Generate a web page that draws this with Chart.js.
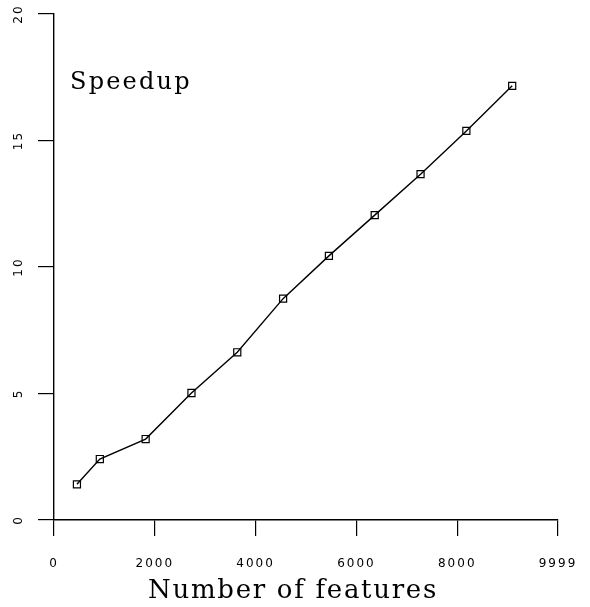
<!DOCTYPE html>
<html>
<head>
<meta charset="utf-8">
<script src="https://cdn.jsdelivr.net/npm/chart.js@4"></script>
<style>
  html, body { margin: 0; padding: 0; background: #fff; }
  #wrap { width: 590px; height: 607px; }
</style>
</head>
<body>
<div id="wrap"><canvas id="chartSpeedup"></canvas></div>
<script>
// data
const features = [455, 909, 1818, 2727, 3636, 4545, 5454, 6363, 7272, 8181, 9090];
const speedup  = [1.41, 2.41, 3.20, 5.02, 6.63, 8.75, 10.44, 12.05, 13.67, 15.38, 17.16];
const xTicks = [0, 2000, 4000, 6000, 8000, 9999];
const yTicks = [0, 5, 10, 15, 20];

const tickFont = { family: "'DejaVu Sans', sans-serif", size: 12 };

// wide tick labels + the two serif texts
const textPlugin = {
    id: 'textPlugin',
    afterDatasetsDraw(chart) {
        chart.ctx.letterSpacing = '2px';
    },
    afterDraw(chart) {
        const ctx = chart.ctx;
        const area = chart.chartArea;
        ctx.letterSpacing = '0px';
        ctx.save();
        ctx.fillStyle = '#000';
        ctx.textBaseline = 'alphabetic';
        ctx.font = "24px 'DejaVu Serif', serif";
        ctx.letterSpacing = '2.2px';
        ctx.textAlign = 'left';
        ctx.fillText('Speedup', area.left + 16, area.top + 75);
        ctx.font = "26px 'DejaVu Serif', serif";
        ctx.letterSpacing = '1.7px';
        ctx.textAlign = 'center';
        ctx.fillText('Number of features', chart.width / 2 - 2, 598);
        ctx.restore();
        ctx.letterSpacing = '0px';
    }
};

// keep the plot box fixed (no auto padding from tick labels)
function noPadding(s) {
    s.paddingLeft = 0; s.paddingRight = 0; s.paddingTop = 0; s.paddingBottom = 0;
}

new Chart(document.getElementById('chartSpeedup'), {
    type: 'line',
    data: {
        datasets: [{
            data: features.map((f, i) => ({ x: f, y: speedup[i] })),
            borderColor: '#000',
            borderWidth: 1.4,
            tension: 0,
            pointStyle: 'rect',
            pointRadius: 5,
            pointBorderWidth: 1.2,
            pointBorderColor: '#000',
            pointBackgroundColor: 'rgba(0,0,0,0)',
            clip: false
        }]
    },
    options: {
        responsive: true, maintainAspectRatio: false, animation: false,
        layout: { padding: { left: 0, top: 14, right: 32, bottom: 0 } },
        plugins: { legend: { display: false }, tooltip: { enabled: false } },
        scales: {
            x: {
                type: 'linear', min: 0, max: 9999,
                afterBuildTicks: s => { s.ticks = xTicks.map(v => ({ value: v })); },
                afterFit: s => { s.height = 87; noPadding(s); },
                grid: { drawOnChartArea: false, drawTicks: true, tickLength: 16, color: '#000', lineWidth: 1.2 },
                border: { display: true, color: '#000', width: 1.4 },
                ticks: { z: 1, color: '#000', font: tickFont, padding: 21, maxRotation: 0, autoSkip: false,
                         callback: v => String(v) }
            },
            y: {
                type: 'linear', min: 0, max: 20,
                afterBuildTicks: s => { s.ticks = yTicks.map(v => ({ value: v })); },
                afterFit: s => { s.width = 54; noPadding(s); },
                grid: { drawOnChartArea: false, drawTicks: true, tickLength: 16, color: '#000', lineWidth: 1.2 },
                border: { display: true, color: '#000', width: 1.4 },
                ticks: { z: 1, color: '#000', font: tickFont, padding: 11, minRotation: 90, maxRotation: 90,
                         crossAlign: 'center', callback: v => String(v) }
            }
        }
    },
    plugins: [textPlugin]
});
</script>
</body>
</html>
